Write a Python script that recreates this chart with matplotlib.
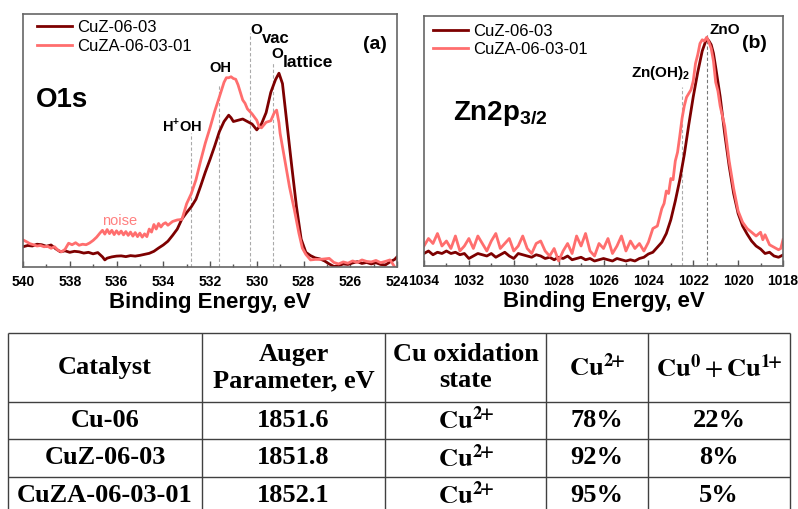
import numpy as np
import matplotlib.pyplot as plt

plt.rcParams['font.family'] = 'Liberation Sans'
plt.rcParams['mathtext.fontset'] = 'custom'
plt.rcParams['mathtext.rm'] = 'Liberation Sans'
plt.rcParams['mathtext.bf'] = 'Liberation Sans:bold'

DARK = '#7d0000'
LIGHT = '#ff6e6e'

# ---- O1s spectra (panel a) ----
o1s_e_dark = [540.0, 539.8, 539.6, 539.4, 539.2, 539.0, 538.8, 538.6, 538.4, 538.2,
              538.0, 537.8, 537.6, 537.4, 537.2, 537.0, 536.8, 536.6, 536.5, 536.4,
              536.2, 536.0, 535.8, 535.6, 535.4, 535.2, 535.0, 534.8, 534.6, 534.4,
              534.2, 534.0, 533.8, 533.6, 533.4, 533.2, 533.0, 532.8, 532.6, 532.4,
              532.2, 532.0, 531.8, 531.6, 531.4, 531.2, 531.1, 531.0, 530.8, 530.6,
              530.4, 530.2, 530.0, 529.8, 529.6, 529.4, 529.2, 529.05, 528.9, 528.7,
              528.5, 528.3, 528.1, 527.9, 527.7, 527.5, 527.3, 527.1, 526.9, 526.7,
              526.5, 526.3, 526.1, 525.9, 525.7, 525.5, 525.3, 525.1, 524.9, 524.7,
              524.5, 524.3, 524.1, 524.0]
o1s_i_dark = [0.080, 0.085, 0.083, 0.090, 0.088, 0.082, 0.087, 0.072, 0.060, 0.064,
              0.058, 0.062, 0.060, 0.055, 0.058, 0.052, 0.057, 0.040, 0.028, 0.035,
              0.040, 0.043, 0.044, 0.041, 0.045, 0.043, 0.046, 0.050, 0.054, 0.062,
              0.075, 0.087, 0.102, 0.125, 0.150, 0.190, 0.215, 0.238, 0.268, 0.320,
              0.375, 0.425, 0.478, 0.535, 0.575, 0.600, 0.590, 0.575, 0.580, 0.585,
              0.575, 0.565, 0.542, 0.565, 0.610, 0.690, 0.740, 0.766, 0.725, 0.560,
              0.396, 0.238, 0.110, 0.058, 0.045, 0.036, 0.032, 0.024, 0.012, 0.002,
              0.005, 0.012, 0.010, 0.016, 0.021, 0.014, 0.018, 0.012, 0.017, 0.010,
              0.008, 0.020, 0.030, 0.040]

o1s_e_light = [540.0, 539.85, 539.7, 539.55, 539.4, 539.25, 539.1, 538.95, 538.8, 538.65,
               538.5, 538.35, 538.2, 538.05, 537.9, 537.75, 537.6, 537.45, 537.3, 537.15,
               537.0, 536.85, 536.7, 536.6, 536.5, 536.4, 536.3, 536.2, 536.1, 536.0,
               535.9, 535.8, 535.7, 535.6, 535.5, 535.4, 535.3, 535.2, 535.1, 535.0,
               534.9, 534.8, 534.7, 534.6, 534.5, 534.4, 534.3, 534.2, 534.1, 534.0,
               533.9, 533.8, 533.6, 533.4, 533.2, 533.0, 532.8, 532.6, 532.4, 532.2,
               532.0, 531.8, 531.6, 531.4, 531.3, 531.2, 531.1, 531.0, 530.9, 530.8,
               530.6, 530.5, 530.4, 530.2, 530.0, 529.9, 529.8, 529.6, 529.4, 529.25,
               529.15, 529.05, 529.0, 528.8, 528.6, 528.4, 528.2, 528.05, 527.9, 527.7,
               527.5, 527.3, 527.1, 526.9, 526.7, 526.5, 526.3, 526.1, 525.9, 525.7,
               525.5, 525.3, 525.1, 524.9, 524.7, 524.5, 524.3, 524.2, 524.1]
o1s_i_light = [0.107, 0.100, 0.092, 0.088, 0.083, 0.085, 0.080, 0.082, 0.074, 0.080,
               0.066, 0.060, 0.070, 0.094, 0.088, 0.096, 0.086, 0.090, 0.088, 0.095,
               0.105, 0.118, 0.135, 0.145, 0.130, 0.148, 0.132, 0.145, 0.128, 0.143,
               0.130, 0.142, 0.127, 0.140, 0.125, 0.138, 0.122, 0.136, 0.120, 0.134,
               0.118, 0.131, 0.120, 0.150, 0.138, 0.168, 0.150, 0.172, 0.158, 0.170,
               0.175, 0.165, 0.180, 0.186, 0.188, 0.250, 0.290, 0.345, 0.420, 0.490,
               0.550, 0.615, 0.672, 0.730, 0.748, 0.748, 0.752, 0.745, 0.742, 0.720,
               0.660, 0.647, 0.625, 0.605, 0.580, 0.555, 0.550, 0.572, 0.578, 0.610,
               0.620, 0.570, 0.528, 0.423, 0.317, 0.230, 0.135, 0.075, 0.050, 0.028,
               0.030, 0.030, 0.032, 0.034, 0.018, 0.012, 0.020, 0.015, 0.024, 0.018,
               0.028, 0.022, 0.020, 0.026, 0.017, 0.022, 0.028, 0.015, 0.000]

o1s_marks = [532.8, 531.6, 530.3, 529.3]
o1s_mark_tops = [0.53, 0.72, 0.925, 0.81]

# ---- Zn2p3/2 spectra (panel b) ----
zn_e_base = [1034.0, 1033.8, 1033.6, 1033.4, 1033.2, 1033.0, 1032.8, 1032.6, 1032.4, 1032.2,
             1032.0, 1031.8, 1031.6, 1031.4, 1031.2, 1031.0, 1030.8, 1030.6, 1030.4, 1030.2,
             1030.0, 1029.8, 1029.6, 1029.4, 1029.2, 1029.0, 1028.8, 1028.6, 1028.4, 1028.2,
             1028.0, 1027.8, 1027.6, 1027.4, 1027.2, 1027.0, 1026.8, 1026.6, 1026.4, 1026.2,
             1026.0, 1025.8, 1025.6, 1025.4, 1025.2, 1025.0, 1024.8, 1024.6, 1024.4, 1024.2]
zn_e_peak = [1024.0, 1023.8, 1023.6, 1023.4, 1023.2, 1023.0, 1022.8, 1022.6, 1022.4, 1022.2,
             1022.0, 1021.8, 1021.6, 1021.4, 1021.3, 1021.2, 1021.1, 1021.0, 1020.8, 1020.6,
             1020.4, 1020.2, 1020.0, 1019.8, 1019.6, 1019.4, 1019.2, 1019.0, 1018.8, 1018.6,
             1018.4, 1018.2, 1018.0]
zn_i_dark = [0.050, 0.060, 0.045, 0.055, 0.050, 0.060, 0.050, 0.055, 0.045, 0.050,
             0.030, 0.040, 0.050, 0.045, 0.040, 0.050, 0.035, 0.045, 0.055, 0.040,
             0.030, 0.050, 0.045, 0.040, 0.035, 0.045, 0.040, 0.030, 0.035, 0.025,
             0.035, 0.030, 0.040, 0.025, 0.030, 0.035, 0.025, 0.030, 0.020, 0.025,
             0.030, 0.025, 0.020, 0.030, 0.025, 0.020, 0.025, 0.020, 0.030, 0.035,
             0.048, 0.055, 0.075, 0.095, 0.130, 0.185, 0.260, 0.345, 0.445, 0.565,
             0.677, 0.775, 0.860, 0.911, 0.900, 0.885, 0.851, 0.795, 0.677, 0.530,
             0.400, 0.290, 0.210, 0.160, 0.128, 0.100, 0.080, 0.068, 0.050, 0.055,
             0.040, 0.035, 0.044]

zn_e_light_peak = [1024.0, 1023.8, 1023.6, 1023.4, 1023.3, 1023.2, 1023.1, 1023.0, 1022.9, 1022.8,
                   1022.7, 1022.6, 1022.5, 1022.4, 1022.3, 1022.2, 1022.1, 1022.0, 1021.9, 1021.8,
                   1021.7, 1021.6, 1021.5, 1021.4, 1021.3, 1021.2, 1021.1, 1021.0, 1020.9, 1020.8,
                   1020.6, 1020.4, 1020.2, 1020.0, 1019.8, 1019.6, 1019.4, 1019.2, 1019.0, 1018.9,
                   1018.8, 1018.6, 1018.4, 1018.2, 1018.1, 1018.0]
zn_i_light = [0.080, 0.110, 0.090, 0.130, 0.080, 0.100, 0.070, 0.120, 0.060, 0.080,
              0.110, 0.070, 0.120, 0.090, 0.060, 0.100, 0.130, 0.070, 0.090, 0.110,
              0.060, 0.080, 0.120, 0.070, 0.050, 0.090, 0.100, 0.060, 0.040, 0.070,
              0.020, 0.060, 0.090, 0.050, 0.120, 0.080, 0.130, 0.060, 0.040, 0.090,
              0.070, 0.110, 0.050, 0.080, 0.120, 0.060, 0.100, 0.070, 0.090, 0.060,
              0.095, 0.150, 0.160, 0.230, 0.250, 0.300, 0.290, 0.350, 0.345, 0.420,
              0.455, 0.520, 0.590, 0.640, 0.675, 0.690, 0.705, 0.740, 0.810, 0.845,
              0.890, 0.905, 0.900, 0.915, 0.895, 0.870, 0.820, 0.735, 0.700, 0.640,
              0.560, 0.420, 0.310, 0.220, 0.175, 0.150, 0.135, 0.120, 0.135, 0.105,
              0.125, 0.085, 0.075, 0.065, 0.070, 0.105]

zn_marks = [1022.5, 1021.4]
zn_mark_tops = [0.716, 0.93]
zn_mark_colors = ['#aaaaaa', '#777777']

# ---- table ----
CU2 = r'$\mathbf{Cu}^{\mathbf{2}\!\mathbf{+}}$'
tbl_header = ['Catalyst', 'Auger\nParameter, eV', 'Cu oxidation\nstate',
              CU2, r'$\mathbf{Cu}^{\mathbf{0}} + \mathbf{Cu}^{\mathbf{1}\!\mathbf{+}}$']
catalysts = ['Cu-06', 'CuZ-06-03', 'CuZA-06-03-01']
auger = ['1851.6', '1851.8', '1852.1']
ox_state = [CU2] * 3
cu2 = ['78%', '92%', '95%']
cu01 = ['22%', '8%', '5%']

fig = plt.figure(figsize=(7.98, 5.09), dpi=100)


def style_axis(ax, xmin, xmax):
    ax.set_xlim(xmin, xmax)
    ax.set_ylim(0, 1)
    ax.set_yticks([])
    ax.set_xticks(np.arange(xmax, xmin + 0.1, 2))
    ax.set_xticks(np.arange(xmax, xmin + 0.1, 1), minor=True)
    ax.tick_params(axis='x', which='major', direction='in', length=4, width=1,
                   labelsize=10, pad=6, color='#555555')
    ax.tick_params(axis='x', which='minor', direction='in', length=2.5, width=1,
                   color='#555555')
    for lbl in ax.get_xticklabels():
        lbl.set_fontweight('bold')
    for sp in ax.spines.values():
        sp.set_color('#666666')
        sp.set_linewidth(1.2)
    ax.set_xlabel('Binding Energy, eV', fontsize=16, fontweight='bold', labelpad=2)


leg_kw = dict(loc='upper left', frameon=False, fontsize=12, handlelength=2.1,
              handletextpad=0.3, labelspacing=0.2, borderaxespad=0, borderpad=0)

# panel (a)
ax1 = fig.add_axes([23 / 798, 1 - 267 / 509, 374 / 798, 253 / 509])
ax1.vlines(o1s_marks, 0, o1s_mark_tops, colors='#aaaaaa', linestyles=(0, (3, 2)), lw=0.8)
ax1.plot(o1s_e_dark, o1s_i_dark, color=DARK, lw=2, label='CuZ-06-03')
ax1.plot(o1s_e_light, o1s_i_light, color=LIGHT, lw=2, label='CuZA-06-03-01')
style_axis(ax1, 540, 524)
ax1.legend(bbox_to_anchor=(0.037, 0.975), **leg_kw)
ax1.text(0.035, 0.66, 'O1s', transform=ax1.transAxes, fontsize=20, fontweight='bold',
         va='center', ha='left')
ax1.text(0.94, 0.88, '(a)', transform=ax1.transAxes, fontsize=14, fontweight='bold',
         va='center', ha='center')
ax1.text(533.2, 0.56, r'H$^{\mathbf{+}}$OH', fontsize=10.5, fontweight='bold', ha='center', va='center')
ax1.text(531.57, 0.785, 'OH', fontsize=10.5, fontweight='bold', ha='center', va='center')
ax1.text(530.29, 0.935, 'O', fontsize=11, fontweight='bold', ha='left', va='center')
ax1.text(529.78, 0.905, 'vac', fontsize=12, fontweight='bold', ha='left', va='center')
ax1.text(529.39, 0.84, 'O', fontsize=11, fontweight='bold', ha='left', va='center')
ax1.text(528.87, 0.81, 'lattice', fontsize=12.5, fontweight='bold', ha='left', va='center')
ax1.text(535.85, 0.182, 'noise', fontsize=10.5, color='#ff8080', ha='center', va='center')

# panel (b)
ax2 = fig.add_axes([424 / 798, 1 - 266 / 509, 359 / 798, 250 / 509])
ax2.vlines(zn_marks, 0, zn_mark_tops, colors=zn_mark_colors, linestyles=(0, (3, 2)), lw=0.8)
ax2.plot(zn_e_base + zn_e_peak, zn_i_dark, color=DARK, lw=2, label='CuZ-06-03')
ax2.plot(zn_e_base + zn_e_light_peak, zn_i_light, color=LIGHT, lw=2, label='CuZA-06-03-01')
style_axis(ax2, 1034, 1018)
ax2.legend(bbox_to_anchor=(0.025, 0.968), **leg_kw)
ax2.text(0.08, 0.61, r'Zn2p$_{\mathbf{3/2}}$', transform=ax2.transAxes, fontsize=20,
         fontweight='bold', va='center', ha='left')
ax2.text(0.92, 0.89, '(b)', transform=ax2.transAxes, fontsize=14, fontweight='bold',
         va='center', ha='center')
ax2.text(1020.6, 0.944, 'ZnO', fontsize=11, fontweight='bold', ha='center', va='center')
ax2.text(1023.45, 0.77, r'Zn(OH)$_{\mathbf{2}}$', fontsize=11, fontweight='bold',
         ha='center', va='center')

# table below the spectra
axt = fig.add_axes([0, 0, 1, 1], zorder=-1)
axt.set_xlim(0, 798)
axt.set_ylim(509, 0)
axt.axis('off')
col_edges = [8, 202, 385, 546, 648, 790]
row_edges = [333.3, 401.7, 439.3, 476.7, 514]
axt.hlines(row_edges, col_edges[0], col_edges[-1], colors='#404040', lw=1)
axt.vlines(col_edges, row_edges[0], row_edges[-1], colors='#404040', lw=1)

tfont = dict(family='Liberation Serif', fontweight='bold', fontsize=19,
             math_fontfamily='stix', ha='center', va='center')
col_mid = [(a + b) / 2 for a, b in zip(col_edges[:-1], col_edges[1:])]
hdr_mid = (row_edges[0] + row_edges[1]) / 2
for x, h in zip(col_mid, tbl_header):
    axt.text(x, hdr_mid, h, linespacing=1.15, **tfont)
rows = list(zip(catalysts, auger, ox_state, cu2, cu01))
for r, vals in enumerate(rows):
    y = (row_edges[r + 1] + row_edges[r + 2]) / 2
    for x, v in zip(col_mid, vals):
        axt.text(x, y, v, **tfont)

fig.savefig('out.png', dpi=100)
